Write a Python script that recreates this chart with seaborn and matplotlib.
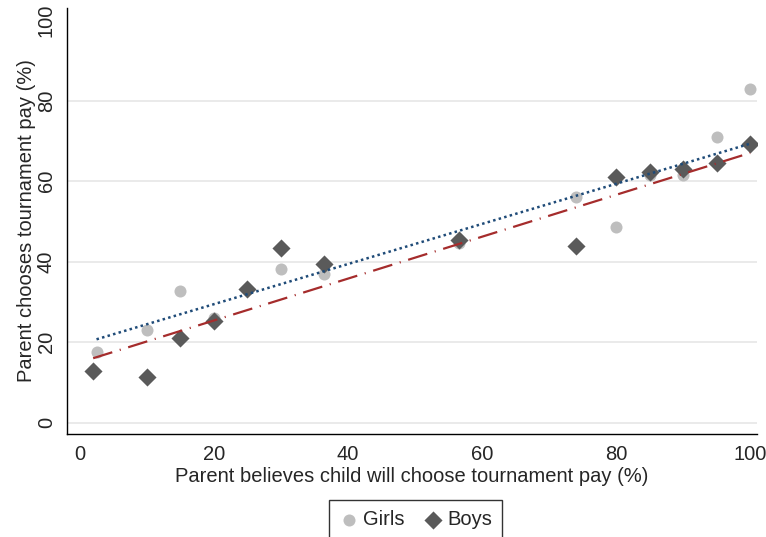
import matplotlib
matplotlib.use('Agg')
import matplotlib.pyplot as plt
import seaborn as sns
import pandas as pd

# share (%) of parents: belief that child picks tournament vs own choice
girls_x = [2.5, 10, 15, 20, 30, 36.5, 56.5, 74, 80, 85, 90, 95, 100]
girls_y = [17.6, 23.0, 32.8, 26.0, 38.2, 36.9, 44.6, 56.1, 48.6, 61.4, 61.4, 71.0, 83.0]
boys_x = [2, 10, 15, 20, 25, 30, 36.5, 56.5, 74, 80, 85, 90, 95, 100]
boys_y = [12.9, 11.4, 21.1, 25.3, 33.3, 43.4, 39.4, 45.4, 43.8, 61.0, 62.2, 63.0, 64.5, 69.3]

# fitted lines
girls_fit_x = [2.5, 100]
girls_fit_y = [20.7, 69.3]
boys_fit_x = [2, 100]
boys_fit_y = [16.0, 67.0]

ticks = [0, 20, 40, 60, 80, 100]

sns.set_style('white')
plt.rcParams['font.family'] = ['Liberation Sans', 'DejaVu Sans']

girls = pd.DataFrame({'x': girls_x, 'y': girls_y})
boys = pd.DataFrame({'x': boys_x, 'y': boys_y})

fig = plt.figure(figsize=(7.66, 5.37), dpi=100)
ax = fig.add_axes([0.0875, 0.192, 0.9005, 0.793])

for y in ticks[:-1]:
    ax.axhline(y, color='#e6e6e6', lw=1.2, zorder=0)

sns.scatterplot(data=girls, x='x', y='y', ax=ax, color='#bebebe', marker='o',
                s=75, linewidth=0, label='Girls', zorder=2)
sns.scatterplot(data=boys, x='x', y='y', ax=ax, color='#5a5a5a', marker='D',
                s=85, linewidth=0, label='Boys', zorder=3)

sns.lineplot(x=girls_fit_x, y=girls_fit_y, ax=ax, color='#1f4b78', lw=1.8,
             linestyle=(0, (1.0, 1.3)), zorder=4)
sns.lineplot(x=boys_fit_x, y=boys_fit_y, ax=ax, color='#a52c2c', lw=1.6,
             linestyle=(0, (9, 3.5, 0.5, 3.5)), zorder=4)

ax.set_xlim(-1.9, 101)
ax.set_ylim(-2.8, 103)
ax.set_xticks(ticks)
ax.set_yticks(ticks)
ax.tick_params(axis='both', direction='out', length=5, width=1, color='black',
               labelsize=14.5, pad=3)
for lab in ax.get_yticklabels():
    lab.set_rotation(90)
    lab.set_va('center')
ax.set_xlabel('Parent believes child will choose tournament pay (%)', fontsize=14.5, labelpad=2)
ax.set_ylabel('Parent chooses tournament pay (%)', fontsize=14.5, labelpad=1)

for side in ['top', 'right']:
    ax.spines[side].set_visible(False)
for side in ['left', 'bottom']:
    ax.spines[side].set_color('black')
    ax.spines[side].set_linewidth(1)

ax.legend_.remove()
handles, labels = ax.get_legend_handles_labels()
leg = fig.legend(handles[:2], labels[:2], loc='upper center', ncol=2,
                 bbox_to_anchor=(0.543, 0.0689), fontsize=14.5, frameon=True,
                 fancybox=False, edgecolor='black', handletextpad=0.25,
                 columnspacing=1.0, borderpad=0.5, borderaxespad=0,
                 handlelength=0.9)
leg.get_frame().set_linewidth(1)

fig.savefig('out.png', dpi=100)
